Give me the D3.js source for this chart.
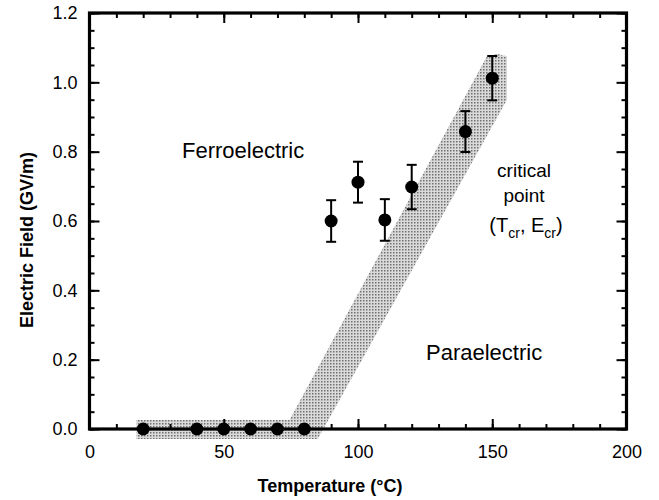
<!DOCTYPE html>
<html><head><meta charset="utf-8">
<script src="https://cdn.jsdelivr.net/npm/d3@7"></script>
<style>body{margin:0;background:#fff}svg{display:block}text{font-family:"Liberation Sans",Arial,Helvetica,sans-serif}</style>
</head><body>
<svg id="c" width="659" height="500"></svg>
<script>
// data
const temps = [20, 40, 50, 60, 70, 80, 90, 100, 110, 120, 140, 150];
const fields = [0, 0, 0, 0, 0, 0, 0.60, 0.712, 0.603, 0.698, 0.858, 1.012];
const errs = [0, 0, 0, 0, 0, 0, 0.06, 0.059, 0.06, 0.064, 0.059, 0.064];
const xTickLabels = [0, 50, 100, 150, 200];
const yTickLabels = [0.0, 0.2, 0.4, 0.6, 0.8, 1.0, 1.2];
// phase boundary band outline (T, E)
const bandT = [17.5, 74.5, 148, 152, 155.5, 155.5, 85, 17.5];
const bandE = [0.026, 0.026, 1.075, 1.082, 1.075, 0.95, -0.029, -0.029];

const svg = d3.select("#c");
const x = d3.scaleLinear().domain([0, 200]).range([89.5, 626.5]);
const y = d3.scaleLinear().domain([0, 1.2]).range([429, 13]);

// halftone pattern
const defs = svg.append("defs");
const pat = defs.append("pattern").attr("id", "ht").attr("patternUnits", "userSpaceOnUse")
  .attr("width", 3).attr("height", 3);
pat.append("rect").attr("width", 3).attr("height", 3).attr("fill", "#dadada");
pat.append("rect").attr("width", 1.5).attr("height", 1.5).attr("fill", "#707070");

const band = bandT.map((t, i) => [x(t), y(bandE[i])]);
svg.append("path").attr("d", d3.line()(band) + "Z").attr("fill", "url(#ht)");

// ticks
const minorX = d3.range(0, 201, 10), minorY = d3.range(0, 1.2001, 0.05).map(v => +v.toFixed(2));
function tickAxis(axisFn, scale, vals, len, fmt) {
  return axisFn(scale).tickValues(vals).tickSizeInner(-len).tickSizeOuter(0).tickPadding(8).tickFormat(fmt || "");
}
const g = svg.append("g").attr("stroke-width", 2);
const addAxis = (axis, tr) => {
  const a = g.append("g").attr("transform", tr).call(axis);
  a.select(".domain").remove();
  a.selectAll("line").attr("stroke", "#000").attr("stroke-width", 2);
  return a;
};
// bottom
addAxis(tickAxis(d3.axisBottom, x, minorX, 5), `translate(0,${y(0)})`);
const xb = addAxis(tickAxis(d3.axisBottom, x, xTickLabels, 10, d3.format("d")), `translate(0,${y(0)})`);
xb.selectAll("text").attr("font-size", 18).attr("fill", "#000").attr("dy", "1.15em");
// top
addAxis(tickAxis(d3.axisTop, x, minorX, 5), `translate(0,${y(1.2)})`);
addAxis(tickAxis(d3.axisTop, x, xTickLabels, 10), `translate(0,${y(1.2)})`);
// left
addAxis(tickAxis(d3.axisLeft, y, minorY, 5), `translate(${x(0)},0)`);
const yl = addAxis(tickAxis(d3.axisLeft, y, yTickLabels, 10, d3.format(".1f")), `translate(${x(0)},0)`);
yl.selectAll("text").attr("font-size", 18).attr("fill", "#000").attr("dx", "-4");
// right
addAxis(tickAxis(d3.axisRight, y, minorY, 5), `translate(${x(200)},0)`);
addAxis(tickAxis(d3.axisRight, y, yTickLabels, 10), `translate(${x(200)},0)`);

// frame
svg.append("rect").attr("x", x(0)).attr("y", y(1.2)).attr("width", x(200) - x(0)).attr("height", y(0) - y(1.2))
  .attr("fill", "none").attr("stroke", "#000").attr("stroke-width", 3.2);

// error bars
const pts = temps.map((t, i) => ({t, e: fields[i], err: errs[i]}));
const eb = svg.append("g").attr("stroke", "#000").attr("stroke-width", 2);
pts.filter(d => d.err > 0).forEach(d => {
  eb.append("line").attr("x1", x(d.t)).attr("x2", x(d.t)).attr("y1", y(d.e - d.err)).attr("y2", y(d.e + d.err));
  [d.e - d.err, d.e + d.err].forEach(v => eb.append("line").attr("x1", x(d.t) - 5).attr("x2", x(d.t) + 5).attr("y1", y(v)).attr("y2", y(v)));
});
svg.append("g").selectAll("circle").data(pts).join("circle")
  .attr("cx", d => x(d.t)).attr("cy", d => y(d.e)).attr("r", 6.5).attr("fill", "#000");

// labels
svg.append("text").attr("x", 182).attr("y", 158).attr("font-size", 22).text("Ferroelectric");
svg.append("text").attr("x", 426).attr("y", 360).attr("font-size", 22).text("Paraelectric");
const cp = svg.append("g").attr("font-size", 19).attr("text-anchor", "middle");
cp.append("text").attr("x", 524).attr("y", 177).text("critical");
cp.append("text").attr("x", 524).attr("y", 202).text("point");
const t3 = cp.append("text").attr("x", 526).attr("y", 232).attr("font-size", 20);
t3.append("tspan").text("(T");
t3.append("tspan").attr("font-size", 14).attr("dy", 6).text("cr");
t3.append("tspan").attr("dy", -6).text(", E");
t3.append("tspan").attr("font-size", 14).attr("dy", 6).text("cr");
t3.append("tspan").attr("dy", -6).text(")");

svg.append("text").attr("x", 330).attr("y", 492).attr("text-anchor", "middle").attr("font-size", 18).attr("font-weight", "bold").text("Temperature (°C)");
svg.append("text").attr("transform", "translate(33,240) rotate(-90)").attr("text-anchor", "middle").attr("font-size", 18).attr("font-weight", "bold").text("Electric Field (GV/m)");
</script>
</body></html>
